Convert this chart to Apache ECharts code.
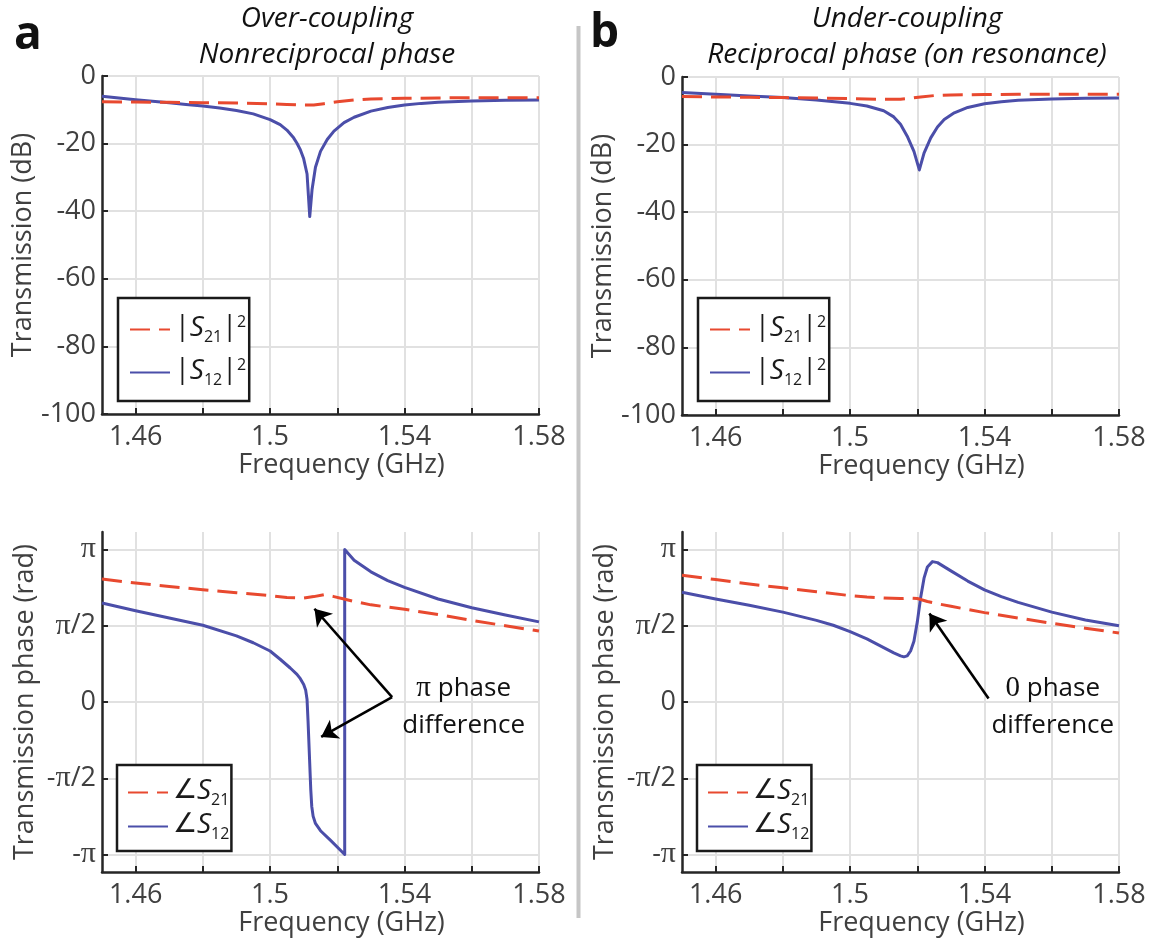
<!DOCTYPE html>
<html><head><meta charset="utf-8">
<script src="https://cdn.jsdelivr.net/npm/echarts@6/dist/echarts.min.js"></script>
<style>html,body{margin:0;padding:0;background:#fff}#c{width:1154px;height:949px}</style>
</head><body><div id="c"></div>
<script>
const PI = Math.PI;
// ---------- axis ticks / labels ----------
const freqTicks = [1.46, 1.48, 1.50, 1.52, 1.54, 1.56, 1.58];
const freqLabels = [1.46, 1.50, 1.54, 1.58];
const phaseTicks = [-PI, -PI / 2, 0, PI / 2, PI];
const phaseTickLabels = ['-π', '-π/2', '0', 'π/2', 'π'];

// ---------- (a) over-coupling, transmission (dB) ----------
const aMagFreq21 = [1.450,1.460,1.470,1.480,1.490,1.500,1.505,1.510,1.513,1.516,1.520,1.525,1.530,1.540,1.550,1.560,1.570,1.580];
const aMagS21 = [-7.6,-7.7,-7.8,-7.9,-8.0,-8.2,-8.4,-8.6,-8.6,-8.2,-7.6,-7.1,-6.8,-6.6,-6.5,-6.4,-6.4,-6.4];
const aMagFreq12 = [1.450,1.455,1.460,1.465,1.470,1.475,1.480,1.485,1.490,1.495,1.500,1.503,1.505,1.507,1.508,1.509,1.510,1.511,1.5118,1.5125,1.5135,1.515,1.517,1.519,1.522,1.525,1.530,1.535,1.540,1.545,1.550,1.560,1.570,1.580];
const aMagS12 = [-6.0,-6.5,-7.0,-7.5,-7.9,-8.4,-8.9,-9.5,-10.2,-11.2,-12.9,-14.4,-16.0,-18.3,-19.9,-21.8,-24.5,-29.0,-41.6,-33.5,-27.0,-22.3,-18.8,-16.3,-13.8,-12.2,-10.4,-9.3,-8.6,-8.1,-7.8,-7.4,-7.2,-7.1];

// ---------- (b) under-coupling, transmission (dB) ----------
const bMagFreq21 = [1.450,1.460,1.470,1.480,1.490,1.500,1.510,1.515,1.518,1.521,1.525,1.530,1.540,1.550,1.560,1.570,1.580];
const bMagS21 = [-5.8,-5.9,-6.0,-6.1,-6.2,-6.4,-6.6,-6.6,-6.3,-5.9,-5.5,-5.3,-5.2,-5.1,-5.1,-5.1,-5.1];
const bMagFreq12 = [1.450,1.460,1.470,1.480,1.490,1.500,1.505,1.510,1.513,1.515,1.517,1.519,1.5206,1.522,1.524,1.526,1.528,1.531,1.535,1.540,1.545,1.550,1.560,1.570,1.580];
const bMagS12 = [-4.6,-5.1,-5.6,-6.1,-6.8,-7.8,-8.6,-10.0,-11.8,-14.0,-17.5,-22.0,-27.5,-22.5,-18.0,-14.8,-12.6,-10.6,-9.0,-7.9,-7.3,-6.9,-6.5,-6.3,-6.2];

// ---------- (a) transmission phase (rad) ----------
const aPhFreq21 = [1.450,1.460,1.470,1.480,1.490,1.500,1.505,1.510,1.513,1.516,1.519,1.522,1.525,1.530,1.540,1.550,1.560,1.570,1.580];
const aPhS21 = [2.53,2.45,2.38,2.31,2.25,2.19,2.15,2.14,2.17,2.21,2.17,2.12,2.07,2.00,1.91,1.80,1.68,1.57,1.46];
const aPhFreq12 = [1.450,1.460,1.470,1.480,1.490,1.495,1.500,1.503,1.506,1.508,1.509,1.510,1.5106,1.511,1.5113,1.5117,1.5121,1.5124,1.5128,1.5135,1.515,1.518,1.5222,1.5222,1.525,1.530,1.535,1.540,1.550,1.560,1.570,1.580];
const aPhS12 = [2.04,1.88,1.73,1.58,1.36,1.22,1.05,0.88,0.70,0.57,0.48,0.36,0.24,0.05,-0.40,-1.10,-1.80,-2.15,-2.35,-2.50,-2.65,-2.85,-3.14,3.14,2.92,2.68,2.50,2.36,2.12,1.94,1.79,1.65];

// ---------- (b) transmission phase (rad) ----------
const bPhFreq21 = [1.450,1.460,1.470,1.480,1.490,1.500,1.505,1.510,1.515,1.518,1.520,1.523,1.527,1.530,1.540,1.550,1.560,1.570,1.580];
const bPhS21 = [2.61,2.52,2.43,2.35,2.27,2.19,2.16,2.14,2.13,2.14,2.13,2.07,2.01,1.97,1.84,1.73,1.62,1.52,1.42];
const bPhFreq12 = [1.450,1.460,1.470,1.480,1.490,1.495,1.500,1.505,1.510,1.513,1.515,1.516,1.517,1.518,1.519,1.520,1.521,1.522,1.523,1.5245,1.526,1.530,1.535,1.540,1.545,1.550,1.560,1.570,1.580];
const bPhS12 = [2.26,2.12,1.99,1.85,1.68,1.58,1.45,1.30,1.12,1.01,0.95,0.93,0.95,1.05,1.25,1.65,2.15,2.55,2.78,2.89,2.87,2.70,2.49,2.31,2.17,2.05,1.85,1.69,1.57];

// ---------- annotations (data coordinates) ----------
const annA = { from: [1.5363, 0.10], to: [[1.5132, 1.92], [1.5152, -0.72]], text: [1.5576, -0.10] };
const annB = { from: [1.5412, 0.07], to: [[1.5236, 1.82]], text: [1.5603, -0.10] };

// ---------- styling ----------
const RED = '#e8492f', BLUE = '#4b4ea9';
const FONT = '"Open Sans", "Noto Sans", sans-serif';
const SERIF = '"Liberation Serif", "DejaVu Serif", serif';
const LABEL = '#404040', AXIS = '#262626', GRIDC = '#e1e1e1';
const DASH = [20, 9];

const zip = (xs, ys) => xs.map((x, i) => [x, ys[i]]);

const grids = [
  { left: 102, top: 76, width: 437, height: 338 },
  { left: 682, top: 77, width: 437, height: 338 },
  { left: 102, top: 532, width: 437, height: 340 },
  { left: 682, top: 532, width: 437, height: 340 }
];

function xAxisFor(i) {
  return {
    type: 'value', gridIndex: i, min: 1.45, max: 1.58,
    name: 'Frequency (GHz)', nameLocation: 'middle', nameGap: 38,
    nameTextStyle: { fontSize: 27, color: LABEL, fontFamily: FONT, padding: [0, 0, 0, 42] },
    axisLine: { show: true, onZero: false, lineStyle: { color: AXIS, width: 2.5 } },
    axisTick: { show: true, inside: true, length: 6, customValues: freqTicks, lineStyle: { color: AXIS, width: 2 } },
    axisLabel: { customValues: freqLabels, fontSize: 27, color: LABEL, fontFamily: FONT, margin: 10,
      formatter: v => String(Math.round(v * 100) / 100) },
    splitLine: { show: true, lineStyle: { color: GRIDC, width: 2 } }
  };
}
function dbAxis(i) {
  return {
    type: 'value', gridIndex: i, min: -100, max: 0, interval: 20,
    name: 'Transmission (dB)', nameLocation: 'middle', nameGap: 58,
    nameTextStyle: { fontSize: 27, color: LABEL, fontFamily: FONT },
    axisLine: { show: true, onZero: false, lineStyle: { color: AXIS, width: 2.5 } },
    axisTick: { show: true, inside: true, length: 6, lineStyle: { color: AXIS, width: 2 } },
    axisLabel: { fontSize: 27, color: LABEL, fontFamily: FONT, margin: 6 },
    splitLine: { show: true, lineStyle: { color: GRIDC, width: 2 } }
  };
}
function phaseAxis(i) {
  return {
    type: 'value', gridIndex: i, min: -3.5, max: 3.5,
    name: 'Transmission phase (rad)', nameLocation: 'middle', nameGap: 63,
    nameTextStyle: { fontSize: 27, color: LABEL, fontFamily: FONT },
    axisLine: { show: true, onZero: false, lineStyle: { color: AXIS, width: 2.5 } },
    axisTick: { show: true, inside: true, length: 6, customValues: phaseTicks, lineStyle: { color: AXIS, width: 2 } },
    axisLabel: {
      customValues: phaseTicks, fontSize: 27, color: LABEL, fontFamily: FONT, margin: 6,
      formatter: v => {
        let k = phaseTicks.findIndex(t => Math.abs(t - v) < 1e-6);
        let s = k >= 0 ? phaseTickLabels[k] : '';
        return s.replace('π', '{p|π}');
      },
      rich: { p: { fontFamily: SERIF, fontSize: 30, color: LABEL } }
    },
    splitLine: { show: true, lineStyle: { color: GRIDC, width: 2 } }
  };
}

function lineSeries(name, idx, data, color, dashed, extra) {
  return Object.assign({
    name: name, type: 'line', xAxisIndex: idx, yAxisIndex: idx,
    data: data, showSymbol: false, symbol: 'none', smooth: false,
    lineStyle: { color: color, width: 3, type: dashed ? DASH : 'solid', join: 'round', cap: 'butt' },
    itemStyle: { color: color }, z: dashed ? 3 : 2, animation: false
  }, extra || {});
}

function arrowMarks(ann) {
  return {
    silent: true, symbol: ['none', 'arrow'], symbolSize: 16, animation: false,
    lineStyle: { color: '#000', width: 2.6, type: 'solid' },
    label: { show: false },
    emphasis: { disabled: true },
    data: ann.to.map(t => [{ coord: ann.from }, { coord: t }])
  };
}
function textMark(ann, first) {
  return {
    silent: true, animation: false,
    symbol: 'circle', symbolSize: 1, itemStyle: { color: 'rgba(0,0,0,0)' },
    data: [{
      coord: ann.text,
      label: {
        show: true, position: 'inside', color: '#111', fontSize: 26, fontFamily: FONT,
        lineHeight: 37, align: 'center', verticalAlign: 'middle',
        formatter: '{p|' + first + '} phase\ndifference',
        rich: { p: { fontFamily: SERIF, fontSize: 29, color: '#111', lineHeight: 37 } }
      }
    }]
  };
}

const legendNames = {
  aS21: '{b||}{s|S}{sub|21}{b||}{sup|2}', aS12: '{b||}{s|S}{sub|12}{b||}{sup|2}',
  bS21: '{b||}{s|S}{sub|21}{b||}{sup|2}', bS12: '{b||}{s|S}{sub|12}{b||}{sup|2}',
  aP21: '{b|∠}{s|S}{sub|21}', aP12: '{b|∠}{s|S}{sub|12}',
  bP21: '{b|∠}{s|S}{sub|21}', bP12: '{b|∠}{s|S}{sub|12}'
};
const richLegend = {
  b: { fontFamily: FONT, fontSize: 27, color: '#1a1a1a', lineHeight: 31, verticalAlign: 'top' },
  s: { fontFamily: FONT, fontStyle: 'italic', fontSize: 28, color: '#1a1a1a', lineHeight: 31, verticalAlign: 'top' },
  sub: { fontFamily: FONT, fontSize: 16, color: '#1a1a1a', lineHeight: 16, padding: [18, 0, 0, 0], verticalAlign: 'bottom' },
  sup: { fontFamily: FONT, fontSize: 16, color: '#1a1a1a', lineHeight: 13, verticalAlign: 'top' }
};
function legendFor(names, left, top, gap, pad) {
  return {
    data: names, left: left, top: top, orient: 'vertical',
    itemWidth: 40, itemHeight: 2, itemGap: gap,
    itemStyle: { opacity: 0 },
    padding: pad, borderColor: '#1a1a1a', borderWidth: 2.5, backgroundColor: '#fff',
    selectedMode: false,
    formatter: n => legendNames[n],
    textStyle: { fontFamily: FONT, fontSize: 27, color: '#1a1a1a', rich: richLegend }
  };
}

const option = {
  backgroundColor: '#fff',
  animation: false,
  grid: grids.map(g => Object.assign({ outerBoundsMode: 'none', containLabel: false }, g)),
  xAxis: [0, 1, 2, 3].map(xAxisFor),
  yAxis: [dbAxis(0), dbAxis(1), phaseAxis(2), phaseAxis(3)],
  legend: [
    legendFor(['aS21', 'aS12'], 118, 298, 9, [13, 3, 13, 11]),
    legendFor(['bS21', 'bS12'], 698, 298, 9, [13, 3, 13, 11]),
    legendFor(['aP21', 'aP12'], 117, 765, 0, [9, 2, 9, 10]),
    legendFor(['bP21', 'bP12'], 697, 765, 0, [9, 2, 9, 10])
  ],
  series: [
    lineSeries('aS12', 0, zip(aMagFreq12, aMagS12), BLUE, false),
    lineSeries('aS21', 0, zip(aMagFreq21, aMagS21), RED, true),
    lineSeries('bS12', 1, zip(bMagFreq12, bMagS12), BLUE, false),
    lineSeries('bS21', 1, zip(bMagFreq21, bMagS21), RED, true),
    lineSeries('aP12', 2, zip(aPhFreq12, aPhS12), BLUE, false),
    lineSeries('aP21', 2, zip(aPhFreq21, aPhS21), RED, true,
      { markLine: arrowMarks(annA), markPoint: textMark(annA, 'π') }),
    lineSeries('bP12', 3, zip(bPhFreq12, bPhS12), BLUE, false),
    lineSeries('bP21', 3, zip(bPhFreq21, bPhS21), RED, true,
      { markLine: arrowMarks(annB), markPoint: textMark(annB, '0') })
  ],
  graphic: [
    { type: 'line', shape: { x1: 578.5, y1: 26, x2: 578.5, y2: 918 }, style: { stroke: '#c6c6c6', lineWidth: 4 } },
    { type: 'text', x: 14, y: 36, style: { text: 'a', font: 'bold 46px ' + FONT, fill: '#111', align: 'left', verticalAlign: 'middle' } },
    { type: 'text', x: 590, y: 34, style: { text: 'b', font: 'bold 46px ' + FONT, fill: '#111', align: 'left', verticalAlign: 'middle' } },
    { type: 'text', x: 327, y: 19, style: { text: 'Over-coupling', font: 'italic 28px ' + FONT, fill: '#111', align: 'center', verticalAlign: 'middle' } },
    { type: 'text', x: 327, y: 55, style: { text: 'Nonreciprocal phase', font: 'italic 28px ' + FONT, fill: '#111', align: 'center', verticalAlign: 'middle' } },
    { type: 'text', x: 907, y: 19, style: { text: 'Under-coupling', font: 'italic 28px ' + FONT, fill: '#111', align: 'center', verticalAlign: 'middle' } },
    { type: 'text', x: 907, y: 55, style: { text: 'Reciprocal phase (on resonance)', font: 'italic 28px ' + FONT, fill: '#111', align: 'center', verticalAlign: 'middle' } }
  ]
};

const chart = echarts.init(document.getElementById('c'), null, { renderer: 'canvas' });
chart.setOption(option);
</script>
</body></html>
